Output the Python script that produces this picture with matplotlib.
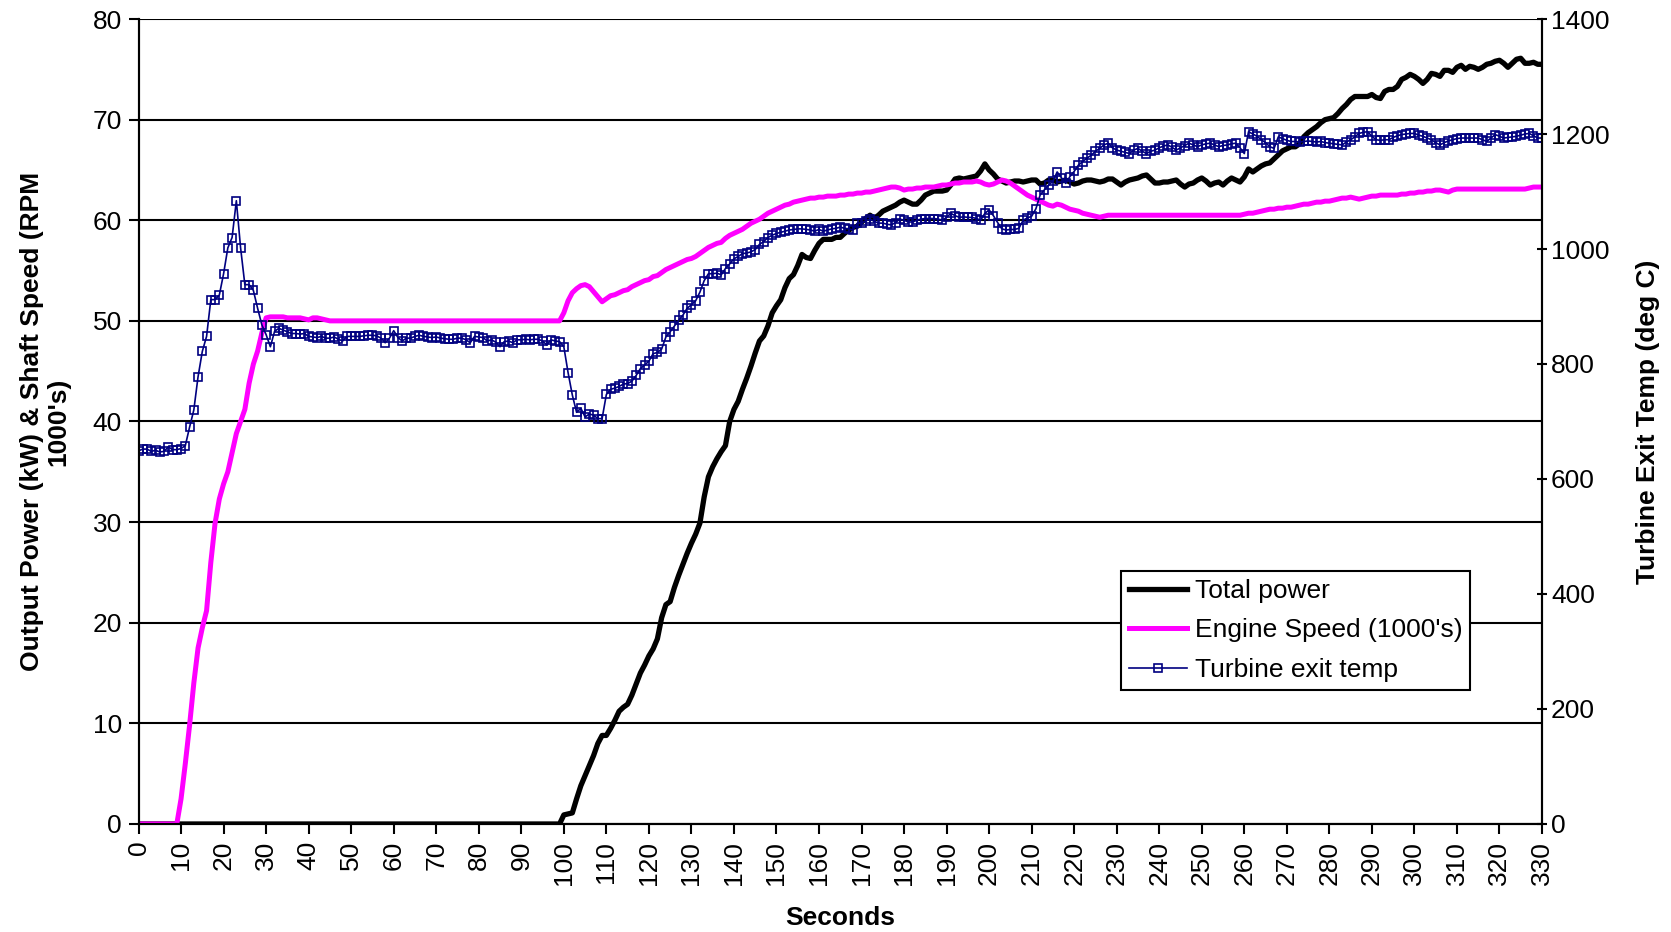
import numpy as np
import matplotlib
matplotlib.use("Agg")
from matplotlib import pyplot as plt
from matplotlib.lines import Line2D

plt.rcParams['font.family'] = ['Liberation Sans', 'DejaVu Sans']

# one sample per second, 0..330 s
seconds = np.arange(0, 331)

# total electrical output (kW)
power = [
    0, 0, 0, 0, 0, 0, 0, 0, 0, 0,
    0, 0, 0, 0, 0, 0, 0, 0, 0, 0,
    0, 0, 0, 0, 0, 0, 0, 0, 0, 0,
    0, 0, 0, 0, 0, 0, 0, 0, 0, 0,
    0, 0, 0, 0, 0, 0, 0, 0, 0, 0,
    0, 0, 0, 0, 0, 0, 0, 0, 0, 0,
    0, 0, 0, 0, 0, 0, 0, 0, 0, 0,
    0, 0, 0, 0, 0, 0, 0, 0, 0, 0,
    0, 0, 0, 0, 0, 0, 0, 0, 0, 0,
    0, 0, 0, 0, 0, 0, 0, 0, 0, 0,
    0.9, 1.0, 1.1, 2.5, 3.8, 4.8, 5.8, 6.8, 8.0, 8.8,
    8.8, 9.5, 10.3, 11.2, 11.6, 11.9, 12.8, 13.9, 15.0, 15.8,
    16.7, 17.4, 18.4, 20.5, 21.8, 22.1, 23.5, 24.7, 25.8, 26.9,
    27.9, 28.8, 29.9, 32.5, 34.5, 35.5, 36.3, 37.0, 37.6, 40.0,
    41.2, 42.0, 43.2, 44.3, 45.5, 46.8, 48.0, 48.5, 49.5, 50.8,
    51.5, 52.1, 53.3, 54.2, 54.6, 55.5, 56.6, 56.3, 56.2, 57.0,
    57.7, 58.1, 58.1, 58.1, 58.3, 58.3, 58.7, 59.0, 59.3, 59.4,
    59.8, 60.2, 60.5, 60.2, 60.5, 60.9, 61.1, 61.3, 61.5, 61.8,
    62.0, 61.8, 61.6, 61.6, 62.0, 62.5, 62.7, 62.9, 62.9, 62.9,
    63.0, 63.5, 64.1, 64.2, 64.1, 64.2, 64.3, 64.4, 64.9, 65.6,
    65.0, 64.6, 64.1, 63.9, 63.7, 63.8, 63.9, 63.9, 63.8, 63.9,
    64.0, 64.0, 63.6, 63.7, 64.0, 64.0, 63.8, 63.9, 64.0, 63.8,
    63.6, 63.7, 63.9, 64.0, 64.0, 63.9, 63.8, 63.9, 64.1, 64.1,
    63.8, 63.5, 63.8, 64.0, 64.1, 64.2, 64.4, 64.5, 64.1, 63.7,
    63.7, 63.8, 63.8, 63.9, 64.0, 63.6, 63.3, 63.6, 63.7, 64.0,
    64.2, 63.9, 63.5, 63.7, 63.8, 63.5, 63.9, 64.2, 64.0, 63.8,
    64.3, 65.1, 64.8, 65.1, 65.4, 65.6, 65.7, 66.1, 66.5, 66.9,
    67.1, 67.3, 67.3, 67.6, 68.3, 68.7, 69.0, 69.3, 69.7, 70.0,
    70.1, 70.2, 70.6, 71.1, 71.5, 72.0, 72.3, 72.3, 72.3, 72.3,
    72.5, 72.2, 72.1, 72.8, 73.0, 73.0, 73.3, 74.0, 74.2, 74.5,
    74.3, 74.0, 73.6, 74.0, 74.6, 74.5, 74.3, 74.9, 74.9, 74.7,
    75.2, 75.4, 75.0, 75.3, 75.2, 75.0, 75.2, 75.5, 75.6, 75.8,
    75.9, 75.6, 75.2, 75.6, 76.0, 76.1, 75.6, 75.6, 75.7, 75.5,
    75.5,
]

# shaft speed, thousands of RPM
speed = [
    0, 0, 0, 0, 0, 0, 0, 0, 0, 0,
    2.5, 6.0, 9.8, 14.0, 17.5, 19.5, 21.2, 26.0, 29.9, 32.3,
    33.8, 35.0, 36.9, 38.8, 40.0, 41.2, 43.8, 45.7, 47.0, 48.8,
    50.3, 50.4, 50.4, 50.4, 50.4, 50.3, 50.3, 50.3, 50.3, 50.2,
    50.1, 50.3, 50.3, 50.2, 50.1, 50.0, 50.0, 50.0, 50.0, 50.0,
    50.0, 50.0, 50.0, 50.0, 50.0, 50.0, 50.0, 50.0, 50.0, 50.0,
    50.0, 50.0, 50.0, 50.0, 50.0, 50.0, 50.0, 50.0, 50.0, 50.0,
    50.0, 50.0, 50.0, 50.0, 50.0, 50.0, 50.0, 50.0, 50.0, 50.0,
    50.0, 50.0, 50.0, 50.0, 50.0, 50.0, 50.0, 50.0, 50.0, 50.0,
    50.0, 50.0, 50.0, 50.0, 50.0, 50.0, 50.0, 50.0, 50.0, 50.0,
    50.8, 52.0, 52.8, 53.2, 53.5, 53.6, 53.4, 52.9, 52.4, 51.9,
    52.2, 52.5, 52.6, 52.8, 53.0, 53.1, 53.4, 53.6, 53.8, 54.0,
    54.1, 54.4, 54.5, 54.8, 55.1, 55.3, 55.5, 55.7, 55.9, 56.1,
    56.2, 56.4, 56.7, 57.0, 57.3, 57.5, 57.7, 57.8, 58.2, 58.5,
    58.7, 58.9, 59.1, 59.4, 59.7, 59.9, 60.1, 60.4, 60.7, 60.9,
    61.1, 61.3, 61.5, 61.6, 61.8, 61.9, 62.0, 62.1, 62.2, 62.2,
    62.3, 62.3, 62.4, 62.4, 62.4, 62.5, 62.5, 62.6, 62.6, 62.7,
    62.7, 62.8, 62.8, 62.9, 63.0, 63.1, 63.2, 63.3, 63.3, 63.2,
    63.0, 63.1, 63.1, 63.2, 63.2, 63.3, 63.3, 63.3, 63.4, 63.5,
    63.5, 63.6, 63.7, 63.7, 63.8, 63.8, 63.8, 63.9, 63.8, 63.6,
    63.5, 63.6, 63.8, 64.0, 63.9, 63.7, 63.4, 63.1, 62.8, 62.5,
    62.3, 62.1, 61.9, 61.7, 61.5, 61.4, 61.6, 61.5, 61.3, 61.1,
    61.0, 60.9, 60.7, 60.6, 60.5, 60.4, 60.3, 60.4, 60.5, 60.5,
    60.5, 60.5, 60.5, 60.5, 60.5, 60.5, 60.5, 60.5, 60.5, 60.5,
    60.5, 60.5, 60.5, 60.5, 60.5, 60.5, 60.5, 60.5, 60.5, 60.5,
    60.5, 60.5, 60.5, 60.5, 60.5, 60.5, 60.5, 60.5, 60.5, 60.5,
    60.6, 60.7, 60.7, 60.8, 60.9, 61.0, 61.1, 61.1, 61.2, 61.2,
    61.3, 61.3, 61.4, 61.5, 61.6, 61.6, 61.7, 61.8, 61.8, 61.9,
    61.9, 62.0, 62.1, 62.2, 62.2, 62.3, 62.2, 62.1, 62.2, 62.3,
    62.4, 62.4, 62.5, 62.5, 62.5, 62.5, 62.5, 62.6, 62.6, 62.7,
    62.7, 62.8, 62.8, 62.9, 62.9, 63.0, 63.0, 62.9, 62.8, 63.0,
    63.1, 63.1, 63.1, 63.1, 63.1, 63.1, 63.1, 63.1, 63.1, 63.1,
    63.1, 63.1, 63.1, 63.1, 63.1, 63.1, 63.1, 63.2, 63.3, 63.3,
    63.3,
]

# turbine exit temperature, deg C
exit_temp = [
    649, 652, 652, 648, 650, 647, 648, 656, 651, 651,
    653, 658, 690, 720, 778, 822, 848, 912, 912, 920,
    957, 1002, 1020, 1084, 1002, 938, 938, 928, 897, 868,
    851, 830, 857, 862, 859, 856, 853, 853, 852, 853,
    848, 847, 846, 848, 845, 845, 847, 843, 840, 848,
    848, 848, 848, 849, 850, 850, 849, 845, 837, 845,
    858, 846, 840, 845, 845, 848, 850, 848, 847, 846,
    847, 845, 844, 843, 843, 845, 845, 842, 837, 848,
    847, 846, 840, 842, 838, 830, 839, 840, 837, 842,
    842, 843, 842, 843, 843, 840, 833, 842, 840, 839,
    830, 785, 746, 716, 723, 708, 713, 711, 705, 705,
    747, 756, 758, 761, 765, 766, 770, 780, 792, 798,
    805, 818, 820, 826, 847, 856, 866, 876, 885, 897,
    903, 910, 925, 945, 957, 957, 958, 955, 966, 974,
    983, 987, 992, 993, 995, 999, 1008, 1013, 1020, 1024,
    1027, 1029, 1031, 1033, 1034, 1035, 1035, 1034, 1033, 1031,
    1034, 1031, 1033, 1035, 1036, 1038, 1036, 1035, 1033, 1045,
    1045, 1049, 1052, 1048, 1045, 1045, 1043, 1042, 1046, 1052,
    1050, 1047, 1047, 1050, 1052, 1053, 1053, 1053, 1052, 1050,
    1055, 1062, 1058, 1055, 1056, 1055, 1055, 1053, 1050, 1062,
    1068, 1058, 1046, 1035, 1033, 1034, 1034, 1036, 1050, 1054,
    1057, 1070, 1094, 1103, 1111, 1118, 1134, 1124, 1114, 1126,
    1135, 1146, 1152, 1158, 1163, 1170, 1175, 1181, 1184, 1176,
    1172, 1170, 1168, 1166, 1172, 1175, 1170, 1166, 1170, 1172,
    1176, 1179, 1181, 1177, 1172, 1176, 1180, 1184, 1181, 1178,
    1181, 1183, 1184, 1181, 1178, 1180, 1181, 1183, 1184, 1176,
    1166, 1204, 1200, 1196, 1190, 1185, 1178, 1175, 1195, 1192,
    1189, 1187, 1187, 1186, 1187, 1188, 1187, 1186, 1187, 1185,
    1184, 1183, 1182, 1181, 1186, 1190, 1195, 1201, 1203, 1204,
    1196, 1190, 1189, 1190, 1190, 1194, 1197, 1199, 1200, 1201,
    1201, 1198, 1196, 1193, 1190, 1185, 1181, 1185, 1188, 1190,
    1192, 1193, 1193, 1193, 1193, 1193, 1190, 1187, 1193, 1199,
    1196, 1193, 1194, 1195, 1196, 1198, 1200, 1201, 1197, 1193,
    1193,
]

FS = 19

fig = plt.figure(figsize=(16.71, 9.32), dpi=100)
ax = fig.add_axes([0.0829, 0.1159, 0.8399, 0.8637])
ax2 = ax.twinx()

ax.plot(seconds, power, color='black', lw=3.8, solid_joinstyle='round')
ax.plot(seconds, speed, color='#FF00FF', lw=3.6, solid_joinstyle='round')
ax2.plot(seconds, exit_temp, color='#000080', lw=1.2, marker='s', ms=5.5,
         mfc='none', mec='#000080', mew=1.2)

ax.set_xlim(0, 330)
ax.set_ylim(0, 80)
ax2.set_ylim(0, 1400)
ax.set_xticks(np.arange(0, 331, 10))
ax.set_yticks(np.arange(0, 81, 10))
ax2.set_yticks(np.arange(0, 1401, 200))

ax.yaxis.grid(True, color='black', lw=1.5)
ax.set_axisbelow(True)
for a in (ax, ax2):
    a.spines['top'].set_visible(False)
    for s in ('left', 'right', 'bottom'):
        a.spines[s].set_linewidth(1.5)

ax.tick_params(axis='x', labelsize=FS, rotation=90, length=7, width=1.5, pad=5)
ax.tick_params(axis='y', labelsize=FS, length=7, width=1.5, pad=5)
ax2.tick_params(axis='y', labelsize=FS, length=7, width=1.5, pad=3, direction='inout')

ax.set_xlabel('Seconds', fontsize=FS, fontweight='bold', labelpad=15)
ax.set_ylabel("Output Power (kW) & Shaft Speed (RPM\n1000's)", fontsize=FS,
              fontweight='bold', labelpad=16, linespacing=1.1)
ax2.set_ylabel('Turbine Exit Temp (deg C)', fontsize=FS, fontweight='bold',
               labelpad=19)

handles = [
    Line2D([], [], color='black', lw=3.8),
    Line2D([], [], color='#FF00FF', lw=3.6),
    Line2D([], [], color='#000080', lw=1.2, marker='s', ms=5.5, mfc='none', mew=1.2),
]
leg = ax2.legend(handles, ['Total power', "Engine Speed (1000's)", 'Turbine exit temp'],
                 loc='upper left', bbox_to_anchor=(0.700, 0.314), fontsize=FS,
                 frameon=True, fancybox=False, edgecolor='black', framealpha=1,
                 handlelength=2.2, handletextpad=0.3, borderpad=0.3,
                 labelspacing=0.58, borderaxespad=0)
leg.get_frame().set_linewidth(1.5)

fig.savefig('out.png', dpi=100)
